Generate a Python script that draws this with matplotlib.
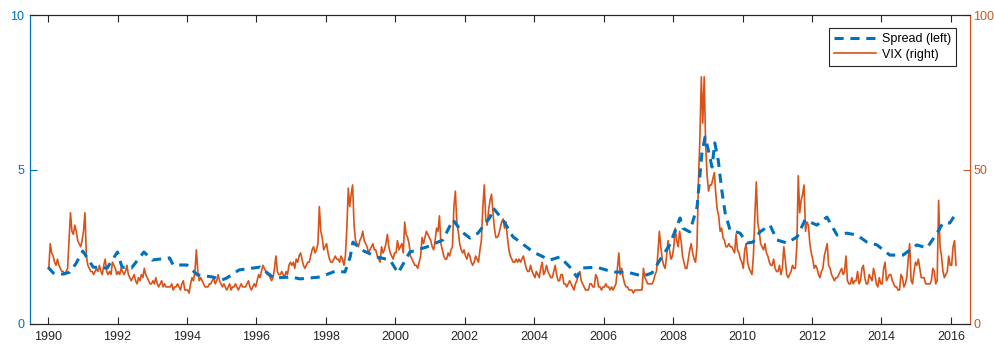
import numpy as np
import matplotlib
matplotlib.use("Agg")
import matplotlib.pyplot as plt

plt.rcParams['font.family'] = ['Liberation Sans', 'DejaVu Sans']

# Spread (left axis): (decimal year, value)
spread_t = [1990.0, 1990.15, 1990.3, 1990.45, 1990.63, 1990.8, 1991.0, 1991.15, 1991.3, 1991.7,
            1992.0, 1992.13, 1992.4, 1992.76, 1993.0, 1993.5, 1993.6, 1994.0, 1994.3, 1994.75,
            1995.0, 1995.15, 1995.5, 1996.1, 1996.5, 1997.0, 1997.26, 1997.83, 1998.3, 1998.55,
            1998.7, 1998.78, 1999.04, 1999.47, 1999.85, 2000.08, 2000.42, 2000.9, 2001.37, 2001.66,
            2001.92, 2002.15, 2002.38, 2002.73, 2002.82, 2003.1, 2003.39, 2003.6, 2003.97, 2004.45,
            2004.74, 2005.03, 2005.23, 2005.37, 2005.8, 2006.27, 2006.67, 2007.13, 2007.39, 2007.62,
            2007.9, 2008.2, 2008.28, 2008.48, 2008.69, 2008.83, 2008.92, 2009.0, 2009.12, 2009.2,
            2009.3, 2009.4, 2009.5, 2009.64, 2009.93, 2010.12, 2010.3, 2010.5, 2010.79, 2010.99,
            2011.28, 2011.57, 2011.8, 2012.14, 2012.43, 2012.72, 2013.0, 2013.29, 2013.58, 2013.87,
            2014.24, 2014.62, 2015.02, 2015.31, 2015.6, 2015.77, 2015.97, 2016.17]
spread_v = [1.84, 1.65, 1.60, 1.62, 1.68, 1.95, 2.36, 2.10, 1.84, 1.81,
            2.33, 1.84, 1.81, 2.33, 2.07, 2.14, 1.91, 1.91, 1.59, 1.52,
            1.42, 1.49, 1.75, 1.84, 1.49, 1.52, 1.46, 1.52, 1.72, 1.68,
            2.17, 2.65, 2.39, 2.17, 2.07, 1.65, 2.33, 2.49, 2.72, 3.37,
            2.98, 2.78, 2.94, 3.46, 3.75, 3.37, 2.82, 2.65, 2.33, 2.07,
            2.17, 1.84, 1.52, 1.81, 1.84, 1.68, 1.68, 1.55, 1.65, 2.07,
            2.56, 3.43, 3.10, 2.98, 3.79, 5.53, 6.05, 5.70, 5.08, 5.86,
            5.30, 4.34, 3.59, 3.04, 2.94, 2.62, 2.65, 2.98, 3.20, 2.72,
            2.62, 2.82, 3.37, 3.20, 3.46, 2.88, 2.94, 2.88, 2.65, 2.56,
            2.23, 2.23, 2.56, 2.46, 2.94, 3.27, 3.27, 3.62]

# VIX (right axis): half-monthly values per year
vix_1990 = [18, 26, 23, 22, 20, 19, 21, 19, 18, 17, 17, 16, 17, 18, 27, 36, 30, 29, 32, 30, 27, 26, 25, 27]
vix_1991 = [30, 36, 22, 19, 18, 17, 17, 16, 17, 18, 17, 19, 17, 16, 19, 21, 17, 16, 17, 16, 20, 19, 18, 16]
vix_1992 = [17, 16, 18, 17, 16, 17, 19, 16, 15, 14, 15, 16, 14, 13, 15, 14, 16, 15, 18, 16, 15, 14, 13, 13]
vix_1993 = [14, 13, 15, 13, 12, 13, 14, 12, 13, 12, 12, 12, 12, 13, 11, 12, 12, 13, 12, 11, 13, 14, 11, 11]
vix_1994 = [11, 10, 13, 15, 14, 17, 24, 17, 14, 15, 14, 13, 12, 12, 12, 13, 13, 14, 15, 13, 14, 16, 14, 13]
vix_1995 = [12, 13, 12, 11, 12, 13, 11, 12, 12, 13, 12, 11, 12, 13, 12, 12, 12, 13, 14, 12, 11, 12, 13, 12]
vix_1996 = [14, 16, 15, 17, 19, 18, 17, 16, 16, 15, 14, 15, 18, 22, 17, 16, 16, 17, 16, 15, 17, 16, 19, 20]
vix_1997 = [19, 20, 18, 21, 20, 22, 23, 21, 19, 18, 19, 20, 20, 22, 24, 25, 23, 24, 26, 38, 30, 28, 24, 25]
vix_1998 = [26, 23, 21, 20, 20, 21, 22, 21, 21, 20, 22, 21, 19, 22, 31, 44, 38, 42, 45, 32, 27, 26, 25, 27]
vix_1999 = [28, 30, 27, 26, 25, 23, 24, 25, 26, 24, 24, 22, 21, 20, 25, 23, 24, 26, 29, 25, 23, 22, 21, 23]
vix_2000 = [23, 27, 24, 25, 26, 23, 33, 29, 28, 26, 22, 21, 20, 19, 19, 18, 20, 22, 28, 26, 28, 30, 29, 28]
vix_2001 = [27, 25, 24, 27, 31, 30, 35, 26, 24, 22, 21, 21, 23, 22, 24, 25, 38, 43, 33, 30, 26, 24, 23, 24]
vix_2002 = [22, 21, 23, 22, 20, 19, 20, 22, 21, 20, 24, 27, 38, 45, 34, 32, 37, 40, 42, 36, 31, 28, 28, 29]
vix_2003 = [31, 33, 34, 31, 33, 28, 24, 22, 21, 20, 20, 21, 20, 21, 20, 21, 22, 20, 18, 17, 17, 19, 17, 16]
vix_2004 = [15, 17, 16, 15, 18, 20, 16, 17, 19, 17, 16, 15, 15, 17, 19, 16, 14, 14, 16, 16, 13, 13, 12, 13]
vix_2005 = [14, 13, 12, 11, 13, 14, 16, 17, 14, 13, 12, 11, 11, 11, 13, 13, 12, 12, 16, 15, 12, 12, 11, 12]
vix_2006 = [12, 13, 12, 12, 11, 12, 11, 12, 13, 18, 23, 16, 18, 15, 13, 12, 12, 11, 11, 11, 10, 11, 11, 11]
vix_2007 = [11, 11, 11, 18, 15, 14, 13, 13, 13, 13, 14, 16, 17, 23, 30, 25, 21, 19, 18, 22, 27, 24, 21, 22]
vix_2008 = [25, 31, 27, 25, 30, 27, 22, 20, 18, 18, 21, 24, 26, 23, 21, 20, 25, 46, 60, 80, 65, 80, 58, 48]
vix_2009 = [43, 45, 45, 47, 49, 42, 37, 35, 30, 31, 28, 27, 25, 25, 26, 25, 25, 24, 23, 29, 24, 23, 21, 20]
vix_2010 = [18, 24, 26, 20, 18, 17, 16, 22, 35, 46, 33, 30, 26, 25, 24, 26, 23, 22, 20, 19, 19, 21, 18, 17]
vix_2011 = [17, 19, 16, 18, 25, 21, 16, 15, 16, 17, 19, 18, 18, 25, 48, 36, 40, 42, 45, 30, 33, 32, 26, 23]
vix_2012 = [21, 18, 19, 18, 16, 15, 17, 18, 22, 24, 26, 19, 18, 16, 15, 14, 15, 15, 16, 17, 18, 16, 17, 22]
vix_2013 = [14, 13, 13, 15, 13, 14, 14, 17, 13, 14, 18, 19, 15, 13, 13, 16, 15, 14, 18, 16, 13, 12, 15, 13]
vix_2014 = [13, 18, 20, 14, 15, 16, 16, 14, 13, 12, 12, 11, 11, 16, 15, 12, 13, 15, 21, 26, 14, 13, 17, 20]
vix_2015 = [19, 21, 18, 15, 15, 15, 13, 13, 13, 13, 14, 18, 17, 13, 14, 40, 25, 22, 17, 15, 16, 17, 22, 19]
vix_2016 = [19, 25, 27, 19]

vix_years = [1990 + i for i in range(27)]
vix_all = [vix_1990, vix_1991, vix_1992, vix_1993, vix_1994, vix_1995, vix_1996, vix_1997,
           vix_1998, vix_1999, vix_2000, vix_2001, vix_2002, vix_2003, vix_2004, vix_2005,
           vix_2006, vix_2007, vix_2008, vix_2009, vix_2010, vix_2011, vix_2012, vix_2013,
           vix_2014, vix_2015, vix_2016]
vix_t, vix_v = [], []
for yr, vals in zip(vix_years, vix_all):
    for k, v in enumerate(vals):
        vix_t.append(yr + (k + 0.5) / 24)
        vix_v.append(v)

x_ticks = list(range(1990, 2017, 2))

blue = '#0072BD'
orange = '#D95319'
dark = '#262626'

fig = plt.figure(figsize=(9.94, 3.45), dpi=100)
ax = fig.add_axes([30/994, 21/345, 940/994, 309/345])
ax2 = ax.twinx()

l1, = ax.plot(spread_t, spread_v, color=blue, lw=2.2, ls=(0, (3, 2.2)), zorder=3, label='Spread (left)')
l2, = ax2.plot(vix_t, vix_v, color=orange, lw=1.2, zorder=2, label='VIX (right)')

ax.set_zorder(ax2.get_zorder() + 1)
ax.patch.set_visible(False)

ax.set_xlim(1989.48, 2016.55)
ax.set_ylim(0, 10)
ax2.set_ylim(0, 100)
ax.set_xticks(x_ticks)
ax.set_yticks([0, 5, 10])
ax2.set_yticks([0, 50, 100])

ax.tick_params(axis='x', direction='in', top=True, length=5, width=0.8, color=dark,
               labelcolor=dark, labelsize=9, pad=5)
ax.tick_params(axis='y', direction='in', length=5, width=0.8, color=blue,
               labelcolor=blue, labelsize=9, pad=4)
ax2.tick_params(axis='y', direction='in', length=5, width=0.8, color=orange,
                labelcolor=orange, labelsize=9, pad=2.5)

for a in (ax, ax2):
    a.spines['top'].set_color(dark)
    a.spines['bottom'].set_color(dark)
    a.spines['left'].set_color(blue)
    a.spines['right'].set_color(orange)
    for s in a.spines.values():
        s.set_linewidth(0.8)

leg = ax.legend(handles=[l1, l2], loc='upper right', bbox_to_anchor=(0.985, 0.958),
                fontsize=9, frameon=True, fancybox=False, edgecolor='#262626',
                framealpha=1, borderpad=0.4, handlelength=3.3, handletextpad=0.5,
                labelspacing=0.3, borderaxespad=0)
leg.get_frame().set_linewidth(0.8)

fig.savefig('out.png', dpi=100)
